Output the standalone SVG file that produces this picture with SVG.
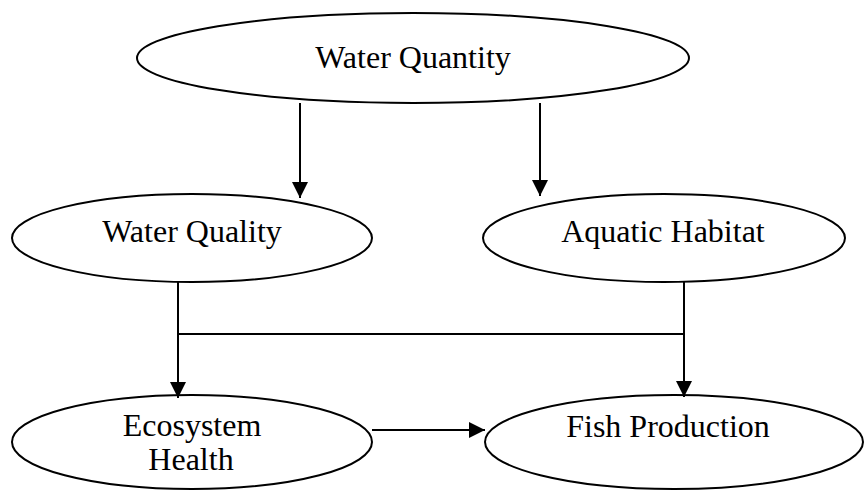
<svg xmlns="http://www.w3.org/2000/svg" width="865" height="495" viewBox="0 0 865 495">
<style>
.n{fill:none;stroke:#000;stroke-width:2}
.t{font-family:"Liberation Serif",serif;font-size:32px;fill:#000;text-anchor:middle}
.c{fill:none;stroke:#000;stroke-width:2}
</style>
<defs>
<marker id="a" markerUnits="userSpaceOnUse" markerWidth="16" markerHeight="16" viewBox="0 0 16 16" refX="16" refY="8" orient="auto">
<path d="M0,0 L16,8 L0,16 Z" fill="#000"/>
</marker>
</defs>
<rect width="865" height="495" fill="#fff"/>
<g id="water-quantity"><ellipse class="n" cx="413" cy="58" rx="276" ry="45"/><text class="t" x="413" y="68">Water Quantity</text></g>
<g id="water-quality"><ellipse class="n" cx="192" cy="238" rx="180" ry="44"/><text class="t" x="192" y="242">Water Quality</text></g>
<g id="aquatic-habitat"><ellipse class="n" cx="664" cy="238" rx="181" ry="44"/><text class="t" x="663" y="242">Aquatic Habitat</text></g>
<g id="ecosystem-health"><ellipse class="n" cx="192" cy="442" rx="180" ry="47"/><text class="t" x="192" y="436">Ecosystem</text><text class="t" x="191" y="470">Health</text></g>
<g id="fish-production"><ellipse class="n" cx="674" cy="442" rx="189" ry="47"/><text class="t" x="668" y="437">Fish Production</text></g>
<g id="connectors">
<line class="c" x1="300" y1="103" x2="300" y2="198" marker-end="url(#a)"/>
<line class="c" x1="540" y1="103" x2="540" y2="196" marker-end="url(#a)"/>
<line class="c" x1="178" y1="282" x2="178" y2="398" marker-end="url(#a)"/>
<line class="c" x1="684" y1="282" x2="684" y2="397" marker-end="url(#a)"/>
<line class="c" x1="177" y1="334" x2="685" y2="334"/>
<line class="c" x1="372" y1="430" x2="485" y2="430" marker-end="url(#a)"/>
</g>
</svg>
